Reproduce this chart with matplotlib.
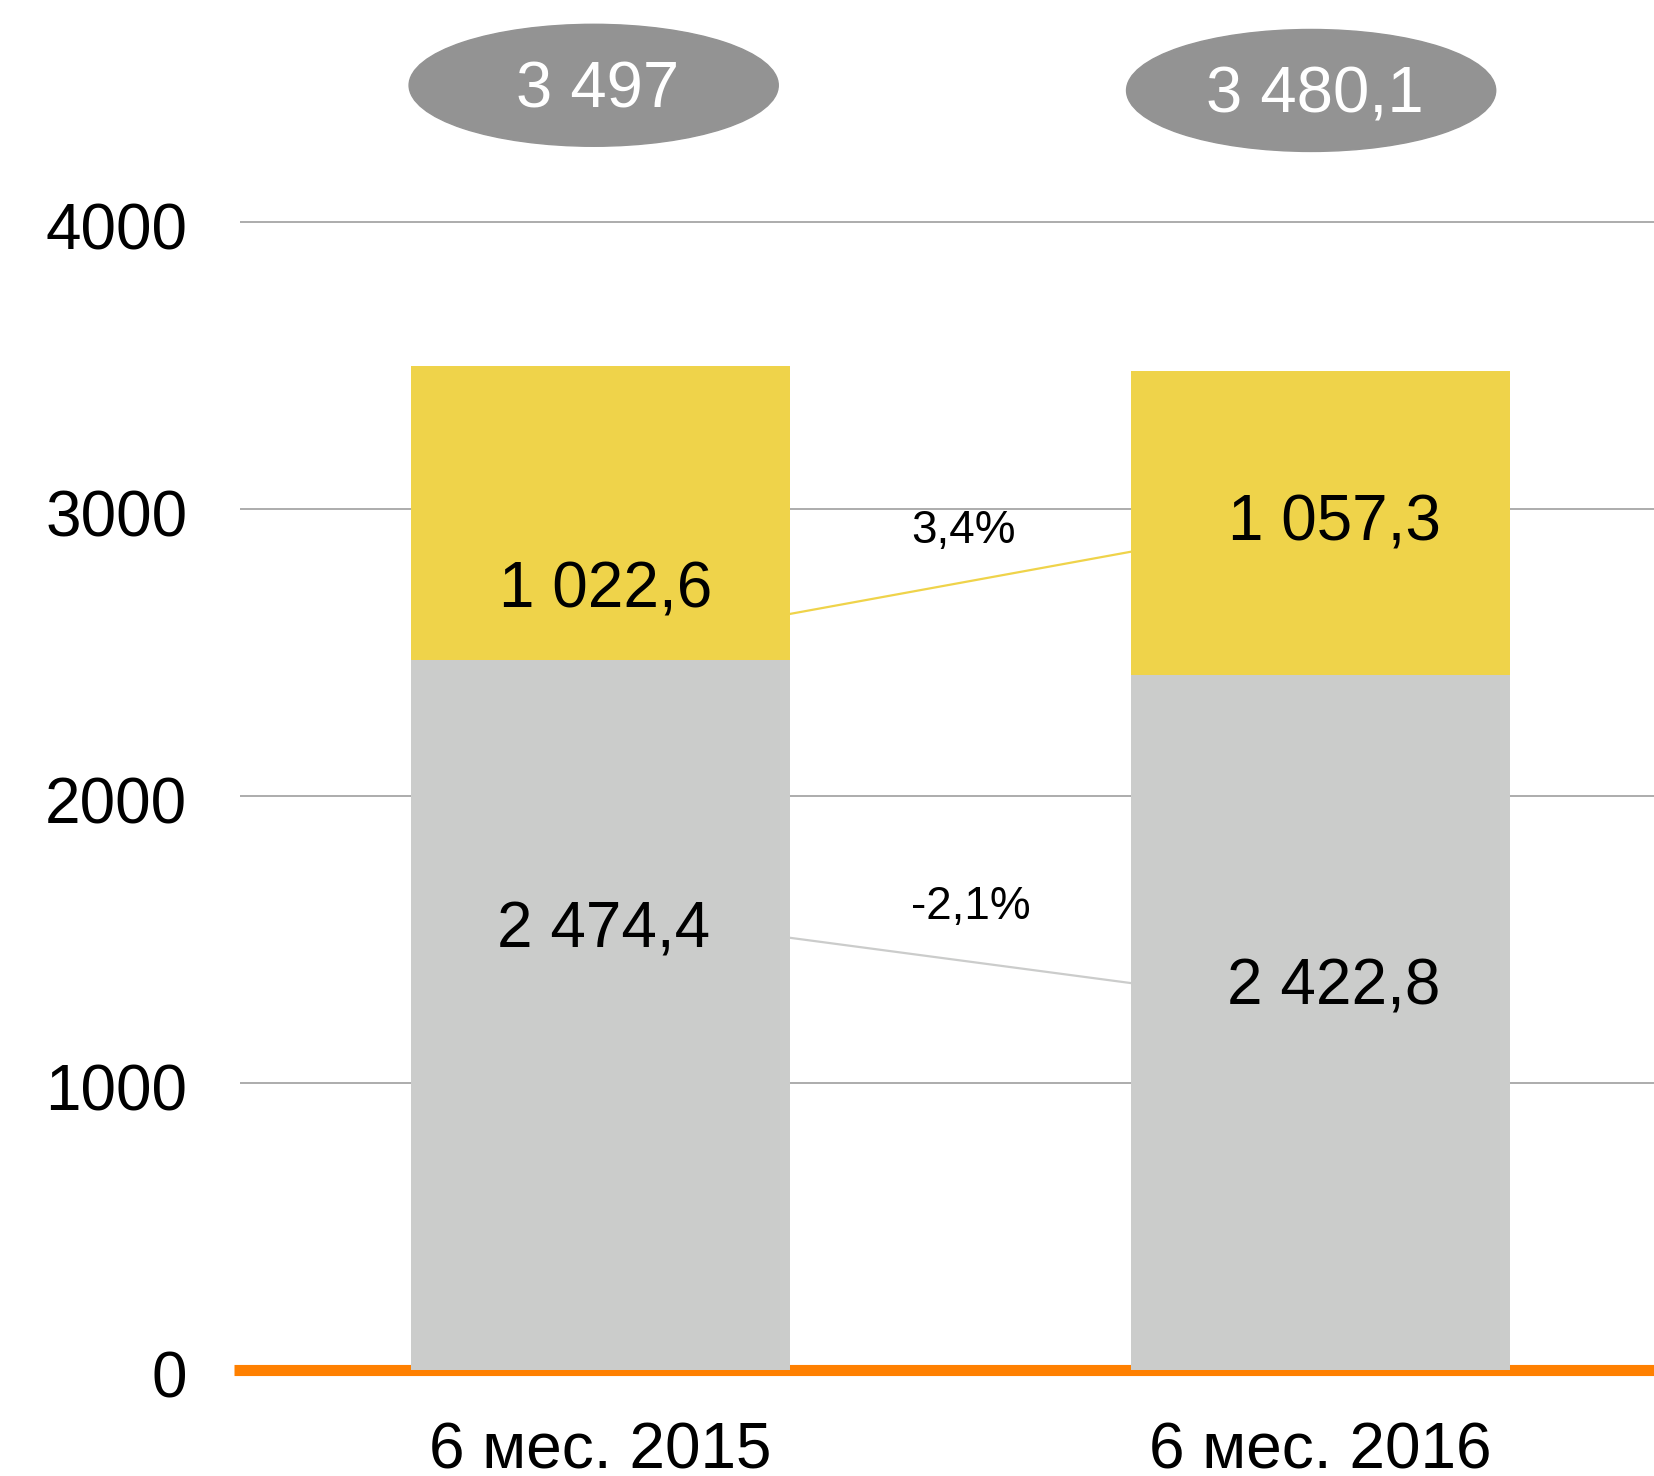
import matplotlib.pyplot as plt
from matplotlib.patches import Ellipse
from matplotlib.transforms import ScaledTranslation

plt.rcParams['font.family'] = ['Liberation Sans', 'DejaVu Sans']

periods = ['6 мес. 2015', '6 мес. 2016']
lower = [2474.4, 2422.8]
upper = [1022.6, 1057.3]
lower_labels = ['2 474,4', '2 422,8']
upper_labels = ['1 022,6', '1 057,3']
totals = ['3 497', '3 480,1']
changes = ['3,4%', '-2,1%']
yticks = [0, 1000, 2000, 3000, 4000]

grey = '#cbcccb'
yellow = '#efd34a'

fig = plt.figure(figsize=(16.54, 14.76), dpi=100)
ax = fig.add_axes([240 / 1654, 106 / 1476, 1414 / 1654, 1349 / 1476])

x = [0, 1]
w = 0.526
ax.bar(x, lower, width=w, color=grey, zorder=3)
ax.bar(x, upper, width=w, bottom=lower, color=yellow, zorder=3)

ax.set_xlim(-0.5, 1.463)
ax.set_ylim(0, 4700)
ax.set_yticks(yticks)
ax.set_yticklabels([str(v) for v in yticks])
ax.set_xticks(x)
ax.set_xticklabels(periods)
ax.tick_params(axis='y', length=0, pad=38, labelsize=46)
ax.tick_params(axis='x', length=0, pad=37, labelsize=46)
shift = ScaledTranslation(0, -3 / 72, fig.dpi_scale_trans)
for lbl in ax.get_yticklabels():
    lbl.set_transform(lbl.get_transform() + shift)
for v in yticks[1:]:
    ax.axhline(v, color='#a6a6a6', lw=1.3, zorder=1)
for s in ax.spines.values():
    s.set_visible(False)
ax.axhline(0, xmin=-0.0045, xmax=1, color='#ff8000', lw=8, zorder=2,
           clip_on=False, solid_capstyle='butt')

# value labels inside the bars
ax.text(0.008, 2715, upper_labels[0], ha='center', va='center', fontsize=46, zorder=4)
ax.text(0.005, 1532, lower_labels[0], ha='center', va='center', fontsize=46, zorder=4)
ax.text(1.019, 2950, upper_labels[1], ha='center', va='center', fontsize=46, zorder=4)
ax.text(1.018, 1333, lower_labels[1], ha='center', va='center', fontsize=46, zorder=4)

# change connectors
ax.plot([w / 2, 1 - w / 2], [2634, 2851], color=yellow, lw=1.6, zorder=2)
ax.plot([w / 2, 1 - w / 2], [1506, 1348], color=grey, lw=1.6, zorder=2)
ax.text(0.505, 2922, changes[0], ha='center', va='center', fontsize=33)
ax.text(0.515, 1614, changes[1], ha='center', va='center', fontsize=33)

# totals in ellipses
for xc, yc, t in zip([-0.009, 0.987], [4476, 4458], totals):
    ax.add_patch(Ellipse((xc, yc), 0.5125, 425, color='#939393', clip_on=False, zorder=3))
    ax.text(xc + 0.005, yc - 18, t, ha='center', va='center', color='white', fontsize=47, zorder=4)

fig.savefig('out.png', dpi=100)
